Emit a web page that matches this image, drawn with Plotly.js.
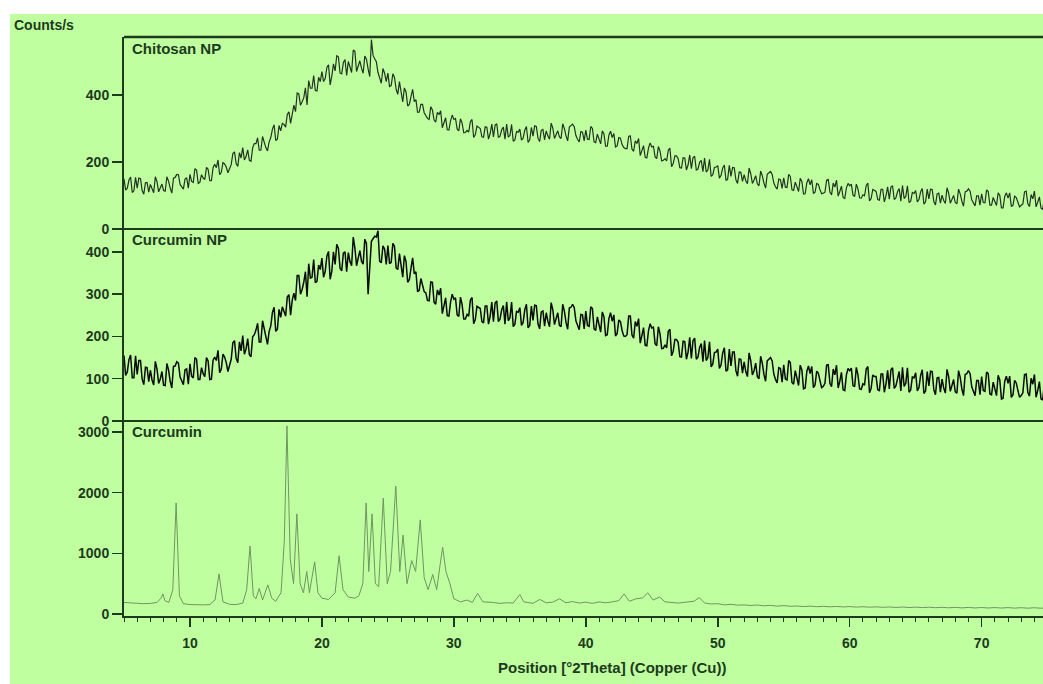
<!DOCTYPE html>
<html>
<head>
<meta charset="utf-8">
<script src="https://cdn.plot.ly/plotly-3.0.1.min.js"></script>
<style>
html,body{margin:0;padding:0;background:#ffffff;}
#chart{width:1043px;height:684px;}
</style>
</head>
<body>
<div id="chart"></div>
<script>
// Sampling grid of the two nanoparticle scans (degrees 2Theta)
const scanStart = 5;
const scanStep = 0.125;

// Chitosan NP counts/s, 8 values per degree from 5 to 75
const chitosanNP = [
150,116,122,146,155,109,114,154, 122,152,150,115,104,138,139,110, 133,118,108,156,141,111,123,134,
115,113,156,143,122,107,152,154, 163,162,133,125,119,149,153,122, 163,142,139,180,176,136,139,162,
152,148,184,178,144,144,183,193, 183,206,162,169,198,194,185,168, 180,192,225,230,195,187,228,212,
243,206,216,236,205,202,242,255, 255,272,235,235,276,258,243,233, 260,273,298,311,264,268,309,293,
315,312,304,342,350,315,345,370, 350,406,403,369,380,392,421,370, 443,420,420,458,413,412,453,440,
470,440,449,482,490,430,456,493, 472,517,514,465,463,497,506,458, 500,481,467,534,530,470,489,502,
480,465,516,507,478,455,565,518, 508,499,467,447,435,479,465,440, 465,425,428,463,452,417,402,440,
402,379,421,409,367,372,394,417, 380,386,348,349,372,372,347,337, 330,327,365,355,325,319,348,342,
353,302,317,332,296,295,323,340, 327,330,298,293,329,316,287,288, 294,289,320,327,273,281,307,304,
300,275,274,305,304,268,285,313, 275,310,314,273,277,296,304,268, 313,274,279,312,262,266,291,289,
298,265,271,295,306,258,266,303, 277,308,306,271,261,294,297,266, 293,278,268,316,301,270,283,293,
275,270,314,300,278,263,304,308, 313,305,279,268,260,291,289,263, 295,268,267,306,300,260,258,283,
267,254,293,284,247,247,280,292, 273,285,245,248,273,271,252,243, 240,240,277,278,238,232,263,255,
270,219,234,249,214,212,241,257, 245,247,215,210,246,233,203,205, 210,203,235,241,186,195,218,218,
210,183,182,213,212,176,191,221, 180,213,217,176,179,199,205,171, 212,170,176,208,157,162,184,185,
189,152,160,182,191,145,149,190, 157,184,183,147,136,170,169,142, 162,144,135,182,165,136,146,159,
135,129,173,159,137,122,163,167, 172,163,137,126,119,149,147,121, 153,125,124,163,157,117,115,140,
124,112,151,142,104,105,138,150, 132,147,106,110,136,133,117,105, 107,110,146,148,110,102,137,125,
146,98,112,128,94,91,123,136, 129,134,101,97,134,120,93,92, 102,99,129,137,84,91,118,114,
112,88,86,118,118,81,99,126, 89,125,129,88,93,111,121,83, 130,91,97,129,79,83,109,106,
115,81,88,111,121,74,81,119, 90,119,118,82,72,105,107,77, 101,85,76,123,107,77,89,100,
79,75,119,105,83,68,111,113, 120,113,87,76,69,99,99,71, 105,79,78,117,112,71,71,94,
81,70,108,100,63,63,97,108, 92,108,67,71,98,94,80,66, 71,75,111,113,75,67,103,90,
113,66,80,96,62,59,92,104,
84
];

// Curcumin NP counts/s, same grid
const curcuminNP = [
155,108,116,145,156,102,102,154, 110,143,143,99,86,127,126,93, 120,97,85,141,123,89,99,117,
85,84,136,121,94,78,129,130, 140,137,104,93,86,121,123,87, 135,106,102,150,146,98,98,126,
112,105,150,142,98,99,144,151, 143,167,114,123,158,151,138,117, 130,146,185,190,148,138,187,166,
202,158,170,195,157,152,199,204, 215,231,187,187,237,215,193,181, 212,225,257,269,212,217,264,245,
270,256,248,293,299,250,286,302, 285,344,344,300,311,328,353,294, 372,338,340,382,327,330,369,358,
385,340,354,390,401,335,354,400, 370,418,408,361,355,397,400,353, 398,377,367,435,409,367,388,403,
378,371,430,420,300,360,425,431, 437,435,450,378,374,414,407,370, 415,372,375,420,413,362,358,396,
365,340,391,377,328,334,361,386, 348,353,306,309,337,317,306,303, 285,284,329,328,281,276,310,298,
314,254,272,291,249,248,281,300, 288,291,251,247,293,275,241,241, 252,248,286,292,230,240,271,268,
266,235,232,272,272,229,248,281, 235,279,284,235,241,263,273,229, 282,237,244,281,223,229,259,257,
268,226,233,263,276,220,226,272, 238,274,273,230,218,258,260,224, 256,236,223,280,263,228,240,256,
226,223,276,260,233,217,267,269, 276,268,237,224,216,252,251,218, 260,226,224,270,266,218,214,246,
225,210,258,247,202,204,242,256, 236,251,201,207,239,235,214,201, 200,204,248,248,203,196,235,224,
242,184,202,221,179,178,213,230, 220,222,183,178,223,206,171,172, 180,173,212,217,154,165,193,193,
186,152,151,189,188,146,163,198, 148,190,196,146,151,174,183,140, 190,143,150,187,128,135,162,163,
170,124,133,161,173,118,121,170, 130,163,163,119,106,147,146,113, 140,117,105,161,143,109,119,137,
105,100,153,137,110,94,142,146, 150,142,111,98,90,126,124,92, 133,99,97,143,138,91,87,119,
98,84,132,121,76,78,117,130, 112,129,79,85,118,113,95,79, 82,89,132,133,89,81,123,109,
132,78,94,115,74,72,109,124, 119,125,84,81,127,109,76,75, 88,85,123,129,67,77,109,105,
105,74,72,111,111,68,88,120, 76,121,126,77,83,105,117,71, 127,82,89,126,68,74,104,102,
114,71,79,108,121,65,71,117, 83,118,117,74,62,102,103,68, 99,78,66,122,105,70,82,98,
69,66,119,103,76,60,110,112, 119,112,81,68,60,96,96,62, 105,72,70,116,112,64,62,92,
73,60,108,97,52,54,94,106, 89,106,56,62,96,90,72,56, 60,67,110,111,67,59,101,87,
110,56,72,93,52,50,88,102,
78
];

// Curcumin (bulk) pattern, read point by point
const curcuminAngle = [
5.0,5.5,6.0,6.5,7.0,7.5,7.8,7.95,8.1,8.4,8.7,8.95,9.2,9.5,10.0,10.5,11.0,11.5,11.9,12.2,
12.5,13.0,13.5,14.0,14.3,14.55,14.8,15.0,15.25,15.5,15.9,16.2,16.5,16.9,17.15,17.35,17.6,17.85,18.1,18.35,
18.6,18.85,19.05,19.45,19.7,20.0,20.5,21.0,21.3,21.6,22.0,22.5,22.8,23.1,23.35,23.55,23.8,24.05,24.3,24.65,
24.95,25.2,25.6,25.9,26.15,26.45,26.8,27.1,27.45,27.75,28.05,28.4,28.7,28.95,29.15,29.4,29.7,30.0,30.5,31.0,
31.4,31.8,32.2,33.0,33.5,34.0,34.5,35.0,35.3,36.0,36.5,37.0,37.5,38.0,38.5,39.0,39.5,40.0,40.5,41.0,
41.5,42.0,42.5,42.9,43.3,43.8,44.3,44.7,45.1,45.6,46.0,47.0,47.5,48.2,48.6,49.0,49.5,50.0,50.5,51.0,
51.5,52.0,52.5,53.0,53.5,54.0,54.5,55.0,55.5,56.0,56.5,57.0,57.5,58.0,58.5,59.0,59.5,60.0,60.5,61.0,
61.5,62.0,62.5,63.0,63.5,64.0,64.5,65.0,65.5,66.0,66.5,67.0,67.5,68.0,68.5,69.0,69.5,70.0,70.5,71.0,
71.5,72.0,72.5,73.0,73.5,74.0,74.5,75.0
];
const curcuminCounts = [
190,180,175,170,175,190,260,330,220,190,400,1830,300,170,155,150,150,155,230,660,
200,160,155,180,400,1120,300,250,420,230,480,260,210,350,1200,3100,900,500,1650,500,
350,700,350,860,350,260,240,350,960,400,280,260,300,500,1830,700,1650,500,450,1910,
500,700,2110,700,1300,500,880,700,1550,600,400,650,400,800,1100,700,500,250,200,230,
190,340,200,190,175,185,180,320,200,175,240,185,195,250,185,205,180,195,175,200,
185,200,220,330,210,250,265,350,230,280,200,180,190,210,270,180,165,170,150,160,
145,150,140,148,135,142,130,138,128,132,122,130,120,126,118,125,116,122,114,120,
112,118,110,116,108,115,106,113,105,112,104,110,102,109,101,108,100,107,99,106,
98,105,97,104,96,103,95,100
];

const panelNames = ["Chitosan NP", "Curcumin NP", "Curcumin"];
const xTickValues = [10, 20, 30, 40, 50, 60, 70];

const scanAngle = chitosanNP.map((_, i) => scanStart + i * scanStep);

const ink = "#1c3a1c";
const green = "#c0ffa0";
const fontFamily = "Liberation Sans, Arial, sans-serif";
const tickFont = {family: fontFamily, size: 14, color: ink, weight: 700};

const d3top = 195 / 579;
const d2top = 387 / 579;

const traces = [
  {x: scanAngle, y: chitosanNP, type: "scatter", mode: "lines", xaxis: "x", yaxis: "y",
   line: {color: "#223322", width: 1.2}, hoverinfo: "skip"},
  {x: scanAngle, y: curcuminNP, type: "scatter", mode: "lines", xaxis: "x", yaxis: "y2",
   line: {color: "#080c08", width: 1.5}, hoverinfo: "skip"},
  {x: curcuminAngle, y: curcuminCounts, type: "scatter", mode: "lines", xaxis: "x", yaxis: "y3",
   line: {color: "#6f9563", width: 1}, hoverinfo: "skip"}
];

const yCommon = {
  showgrid: false, zeroline: false, showline: true, linecolor: ink, linewidth: 2,
  ticks: "outside", ticklen: 10, tickwidth: 1.5, tickcolor: ink, tickfont: tickFont,
  anchor: "x", fixedrange: true
};

const layout = {
  width: 1043, height: 684,
  margin: {l: 124, r: 0, t: 37, b: 68, pad: 0},
  paper_bgcolor: green, plot_bgcolor: green,
  showlegend: false,
  xaxis: {
    range: [5, 74.65], showgrid: false, zeroline: false, showline: true, linecolor: ink, linewidth: 2,
    ticks: "outside", ticklen: 9, tickwidth: 1.5, tickcolor: ink, tickvals: xTickValues,
    tickfont: tickFont, ticklabelstandoff: 4, anchor: "y3",
    minor: {dtick: 1, ticks: "outside", ticklen: 4, tickwidth: 1, tickcolor: ink},
    fixedrange: true
  },
  yaxis: Object.assign({}, yCommon, {domain: [d2top, 1], range: [0, 573], tickvals: [0, 200, 400]}),
  yaxis2: Object.assign({}, yCommon, {domain: [d3top, d2top], range: [0, 454], tickvals: [0, 100, 200, 300, 400]}),
  yaxis3: Object.assign({}, yCommon, {domain: [0, d3top], range: [-33, 3180], tickvals: [0, 1000, 2000, 3000]}),
  shapes: [
    {type: "rect", xref: "paper", yref: "paper", x0: -0.2, x1: 1.01, y0: 1.0397, y1: 1.2,
     fillcolor: "#ffffff", line: {width: 0}, layer: "below"},
    {type: "rect", xref: "paper", yref: "paper", x0: -0.2, x1: -0.1240, y0: -0.2, y1: 1.2,
     fillcolor: "#ffffff", line: {width: 0}, layer: "below"},
    {type: "line", xref: "paper", yref: "paper", x0: 0, x1: 1, y0: 1, y1: 1, line: {color: ink, width: 2.5}},
    {type: "line", xref: "paper", yref: "paper", x0: 0, x1: 1, y0: d2top, y1: d2top, line: {color: ink, width: 2}},
    {type: "line", xref: "paper", yref: "paper", x0: 0, x1: 1, y0: d3top, y1: d3top, line: {color: ink, width: 2}}
  ],
  annotations: [
    {text: "Counts/s", xref: "paper", yref: "paper", x: -0.1219, y: 1.0207, xanchor: "left", yanchor: "middle",
     showarrow: false, font: {family: fontFamily, size: 14, color: ink, weight: 700}},
    {text: panelNames[0], xref: "paper", yref: "paper", x: 0.0065, y: 0.981, xanchor: "left", yanchor: "middle",
     showarrow: false, font: {family: fontFamily, size: 15, color: ink, weight: 700}},
    {text: panelNames[1], xref: "paper", yref: "paper", x: 0.0065, y: 0.6494, xanchor: "left", yanchor: "middle",
     showarrow: false, font: {family: fontFamily, size: 15, color: ink, weight: 700}},
    {text: panelNames[2], xref: "paper", yref: "paper", x: 0.0065, y: 0.3178, xanchor: "left", yanchor: "middle",
     showarrow: false, font: {family: fontFamily, size: 15, color: ink, weight: 700}},
    {text: "Position [°2Theta] (Copper (Cu))", xref: "paper", yref: "paper", x: 0.531, y: -0.0881,
     xanchor: "center", yanchor: "middle", showarrow: false,
     font: {family: fontFamily, size: 15, color: ink, weight: 700}}
  ]
};

Plotly.newPlot("chart", traces, layout, {displayModeBar: false, staticPlot: true});
</script>
</body>
</html>
